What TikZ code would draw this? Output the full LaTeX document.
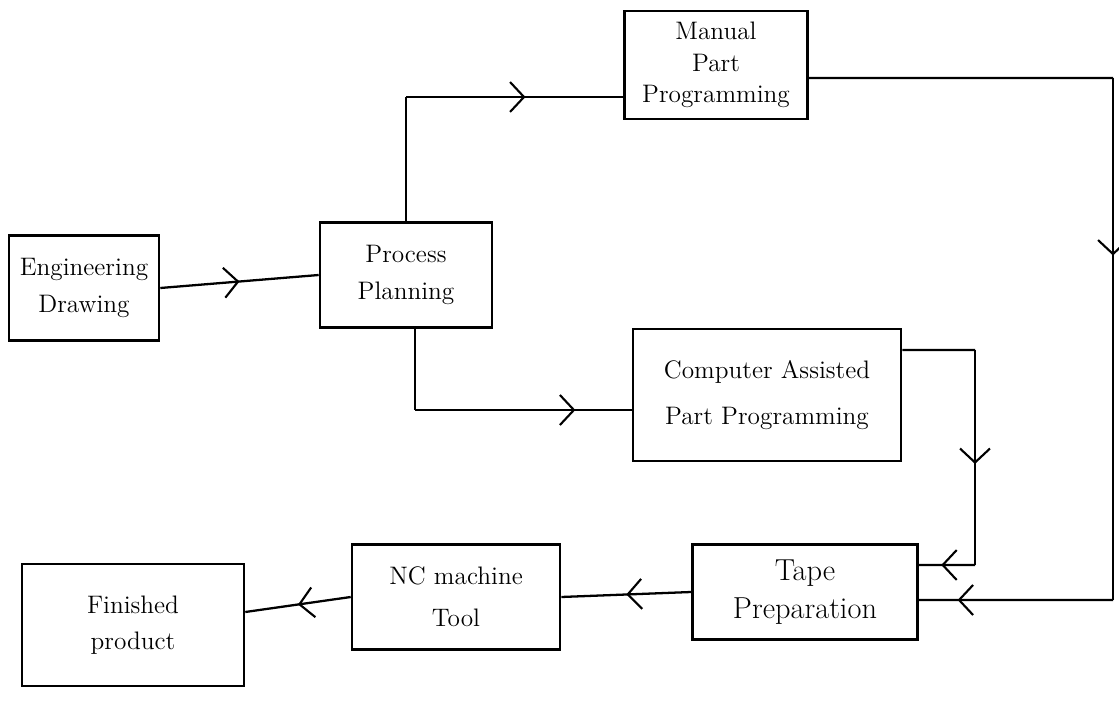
\documentclass[tikz,border=0pt]{standalone}
\usepackage{tikz}
\usetikzlibrary{arrows.meta,positioning,calc,decorations.markings}

\begin{document}
\begin{tikzpicture}[x=0.02cm,y=-0.02cm,line width=1.3pt,
      bx/.style={draw,line width=1.5pt,align=center,font=\Large,inner sep=1pt},
      midarr/.style={decoration={markings,mark=at position #1 with
                 {\arrow{Straight Barb[length=2.8mm,width=6mm,line width=1.2pt]}}},
                 postaction={decorate}},
      midarr/.default=0.5]
      \useasboundingbox (0,0) rectangle (1119,702);
      % Blocks
      \node[bx,minimum width=3.0cm,minimum height=2.1cm] (ed) at (84,288) {Engineering\\[1mm]Drawing};
      \node[bx,minimum width=3.44cm,minimum height=2.1cm] (pp) at (406,275) {Process\\[1mm]Planning};
      \node[bx,minimum width=3.66cm,minimum height=2.16cm] (mpp) at (716,65) {Manual\\Part\\Programming};
      \node[bx,minimum width=5.36cm,minimum height=2.64cm] (capp) at (767,395) {Computer Assisted\\[3mm]Part Programming};
      \node[bx,minimum width=4.5cm,minimum height=1.9cm,font=\LARGE] (tape) at (805,592) {Tape\\Preparation};
      \node[bx,minimum width=4.16cm,minimum height=2.1cm] (nc) at (456,597) {NC machine\\[2mm]Tool};
      \node[bx,minimum width=4.44cm,minimum height=2.44cm] (fp) at (133,625) {Finished\\[1mm]product};
      % Ends and corners
      \coordinate (min) at ([yshift=-0.64cm]mpp.west);
      \coordinate (mout) at ([yshift=-0.26cm]mpp.east);
      \coordinate (pout) at ([xshift=0.18cm]pp.south);
      \coordinate (cin) at ([yshift=-0.3cm]capp.west);
      \coordinate (cout) at ([yshift=0.9cm]capp.east);
      \coordinate (tin1) at ([yshift=0.54cm]tape.east);
      \coordinate (tin2) at ([yshift=-0.16cm]tape.east);
      \coordinate (fin) at ([yshift=0.26cm]fp.east);
      \coordinate (r1) at (1113,78);
      \coordinate (r2) at (1113,600);
      \coordinate (s1) at (975,350);
      \coordinate (s2) at (975,565);
      % Connectors
      \draw[midarr] (ed.east) -- (pp.west);
      \draw (pp.north) -- (pp.north |- min) coordinate (k1);
      \draw[midarr=0.55] (k1) -- (min);
      \draw (mout) -- (r1);
      \draw[midarr=0.34] (r1) -- (r2);
      \draw[midarr=0.8] (r2) -- (tin2);
      \draw (pout) -- (pout |- cin) coordinate (q1);
      \draw[midarr=0.74] (q1) -- (cin);
      \draw (cout) -- (s1);
      \draw[midarr=0.53] (s1) -- (s2);
      \draw[midarr=0.6] (s2) -- (tin1);
      \draw[midarr] (tape.west) -- (nc.east);
      \draw[midarr] (nc.west) -- (fin);
    \end{tikzpicture}
\end{document}
